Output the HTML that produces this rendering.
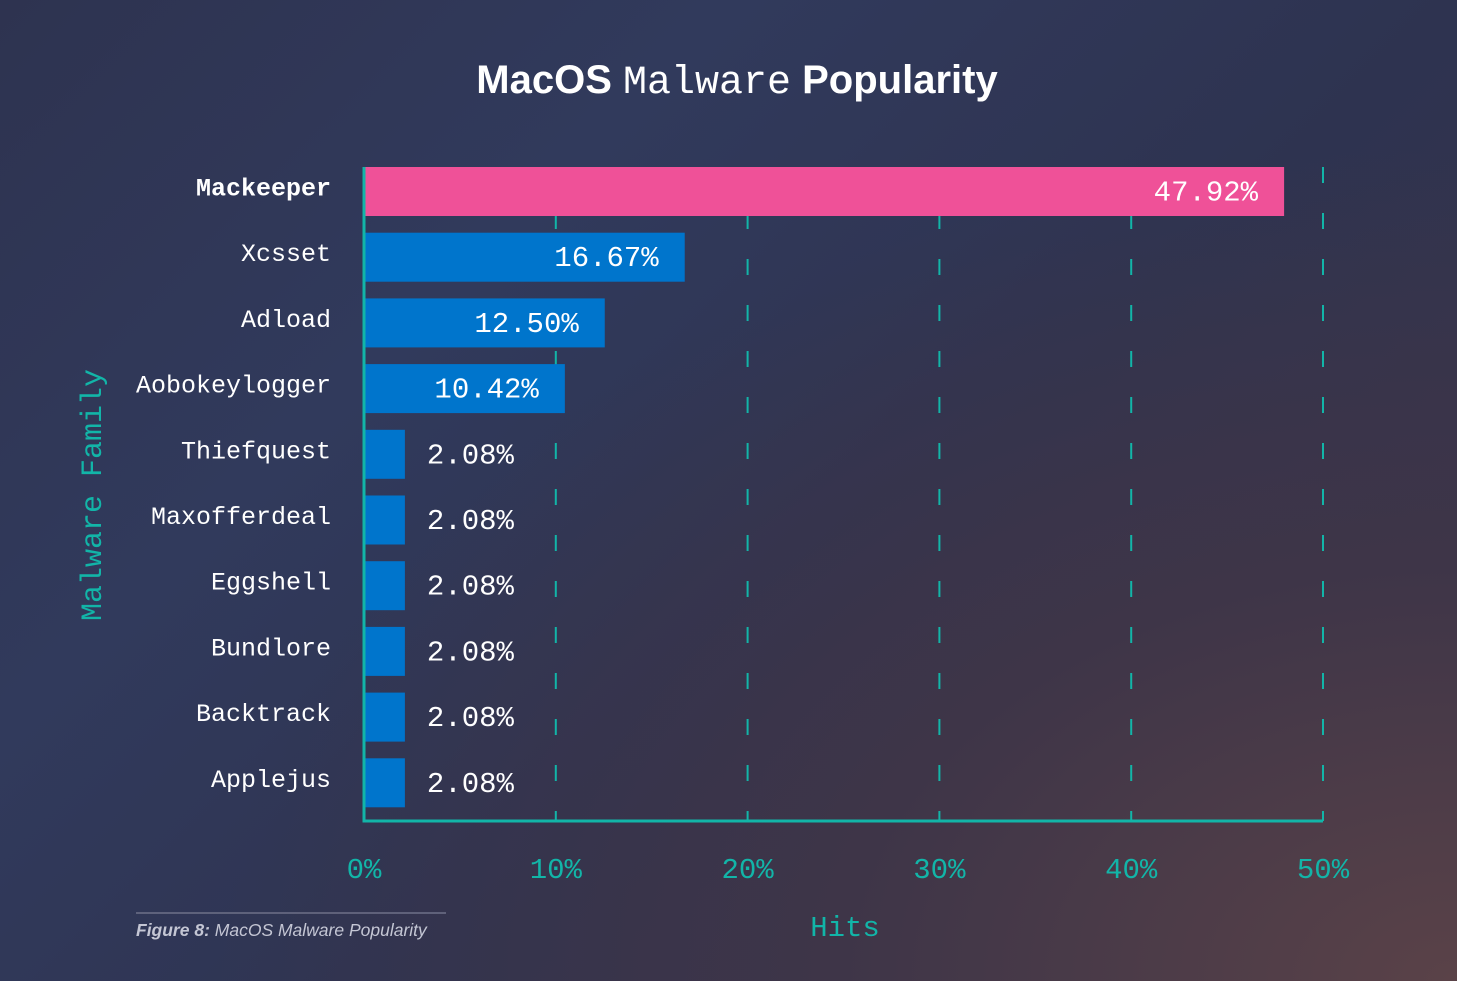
<!DOCTYPE html>
<html><head><meta charset="utf-8"><style>
html,body{margin:0;padding:0}
body{width:1457px;height:981px;overflow:hidden;background:radial-gradient(ellipse at 100% 100%,#5a4248 0%,#3e3548 30%,rgba(0,0,0,0) 60%),linear-gradient(135deg,#2e3350 0%,#313a5c 30%,#2e3350 60%,#3a3448 100%);font-family:"Liberation Sans",sans-serif}
svg{position:absolute;left:0;top:0}
</style></head><body>
<svg width="1457" height="981" id="chart">
<text x="737" y="93" text-anchor="middle" fill="#fff" font-size="40"><tspan font-weight="bold" font-family="Liberation Sans">MacOS </tspan><tspan font-family="Liberation Mono">Malware</tspan><tspan font-weight="bold" font-family="Liberation Sans"> Popularity</tspan></text>
<text transform="translate(101,495) rotate(-90)" text-anchor="middle" fill="#12b5a8" font-size="30" font-family="Liberation Mono">Malware Family</text>
<text x="845" y="936" text-anchor="middle" fill="#12b5a8" font-size="29" font-family="Liberation Mono">Hits</text>
<line x1="136" y1="913" x2="446" y2="913" stroke="#6e7088" stroke-width="1.5"/>
<text x="136" y="936" fill="#c4c6d4" font-size="17.5" font-style="italic"><tspan font-weight="bold">Figure 8:</tspan> MacOS Malware Popularity</text>
<g id="grid"></g><g id="bars"></g><g id="axis"></g>
</svg>
<script>
const categories=["Mackeeper","Xcsset","Adload","Aobokeylogger","Thiefquest","Maxofferdeal","Eggshell","Bundlore","Backtrack","Applejus"];
const values=[47.92,16.67,12.50,10.42,2.08,2.08,2.08,2.08,2.08,2.08];
const valueLabels=["47.92%","16.67%","12.50%","10.42%","2.08%","2.08%","2.08%","2.08%","2.08%","2.08%"];
const ticks=[0,10,20,30,40,50];
const tickLabels=["0%","10%","20%","30%","40%","50%"];
const NS="http://www.w3.org/2000/svg";
const x0=364,x1=1323,top0=167,rowH=65.7,barH=49,base=821;
const xs=v=>x0+(v-ticks[0])/(ticks[ticks.length-1]-ticks[0])*(x1-x0);
const ys=i=>top0+i*rowH;
function mk(t,a,p){const e=document.createElementNS(NS,t);for(const k in a)e.setAttribute(k,a[k]);p.appendChild(e);return e;}
const grid=document.getElementById('grid'),bars=document.getElementById('bars'),axis=document.getElementById('axis');
ticks.forEach((t,i)=>{
  if(i>0){const l=mk('line',{x1:xs(t),x2:xs(t),y1:top0,y2:base,stroke:'#12b5a8','stroke-width':2,'stroke-dasharray':'16 30'},grid);
  
  }
  const tx=mk('text',{x:xs(t),y:878,'text-anchor':'middle',fill:'#12b5a8','font-size':29,'font-family':'Liberation Mono'},axis);
  tx.textContent=tickLabels[i];
  
  
});
const ax=mk('path',{d:`M${x0} ${top0}V${base}H${x1}`,fill:'none',stroke:'#12b5a8','stroke-width':3},axis);


categories.forEach((c,i)=>{
  const y=ys(i),w=xs(values[i])-x0;
  const r=mk('rect',{x:x0+1,y:y,width:w,height:barH,fill:i==0?'#ef5198':'#0075cc'},bars);
  
  
  const lab=mk('text',{x:331,y:y+barH/2+4,'text-anchor':'end',fill:'#fff','font-size':25,'font-family':'Liberation Mono','font-weight':i==0?'bold':'normal'},bars);
  lab.textContent=c;
  
  
  const inside=w>150;
  const v=mk('text',{x:inside?x0+w-25:x0+w+23,y:y+barH/2+9,'text-anchor':inside?'end':'start',fill:'#fff','font-size':29,'font-family':'Liberation Mono'},bars);
  v.textContent=valueLabels[i];
  
  
});
</script>
</body></html>
